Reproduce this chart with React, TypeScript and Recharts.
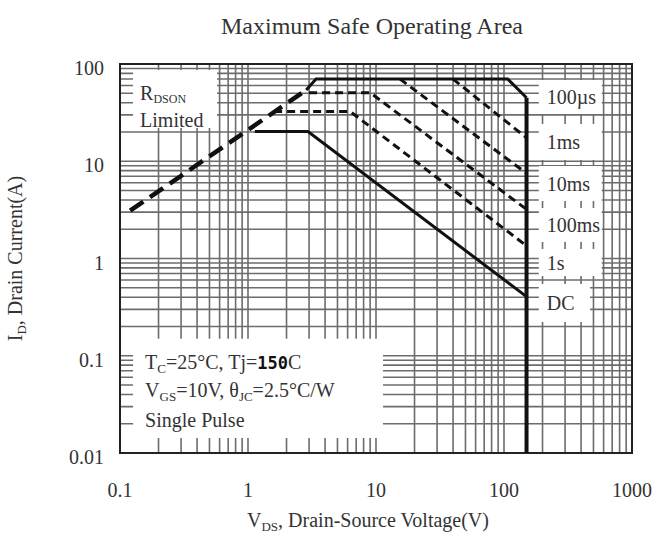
import React from "react";
import {
  LineChart,
  Line,
  XAxis,
  YAxis,
  CartesianGrid,
  ReferenceArea,
  Label,
} from "recharts";

const FONT = "'Liberation Serif', 'Times New Roman', serif";
const INK = "#333";
const GRID = "#6c6c6c";

// axis ticks
const voltageTicks = [0.1, 1, 10, 100, 1000];
const currentTicks = [0.01, 0.1, 1, 10, 100];

// log grid lines (inside the frame)
const voltageGrid = [
  0.2, 0.3, 0.4, 0.5, 0.6, 0.7, 0.8, 0.9,
  1, 2, 3, 4, 5, 6, 7, 8, 9,
  10, 20, 30, 40, 50, 60, 70, 80, 90,
  100, 200, 300, 400, 500, 600, 700, 800, 900,
];
const currentGrid = [
  0.02, 0.03, 0.04, 0.05, 0.06, 0.07, 0.08, 0.09,
  0.1, 0.2, 0.3, 0.4, 0.5, 0.6, 0.7, 0.8, 0.9,
  1, 2, 3, 4, 5, 6, 7, 8, 9,
  10, 20, 30, 40, 50, 60, 70, 80, 90,
];

// SOA boundaries, v = VDS (V), i = ID (A)
const rdsOnLimit = [
  { v: 0.12, i: 3.1 },
  { v: 2.85, i: 54 },
];
const pulse100us = [
  { v: 2.85, i: 54 },
  { v: 3.4, i: 70 },
  { v: 107, i: 70 },
  { v: 150, i: 45 },
];
const vdsMax = [
  { v: 150, i: 45 },
  { v: 150, i: 0.01 },
];
const pulse1ms = [
  { v: 40, i: 70 },
  { v: 150, i: 17.4 },
];
const pulse10ms = [
  { v: 15.4, i: 70 },
  { v: 150, i: 7.5 },
];
const pulse100ms = [
  { v: 3.0, i: 50.7 },
  { v: 9, i: 50.7 },
  { v: 150, i: 3.2 },
];
const pulse1s = [
  { v: 1.6, i: 32.4 },
  { v: 6.3, i: 32.4 },
  { v: 150, i: 1.35 },
];
const dcLimit = [
  { v: 1.13, i: 20.2 },
  { v: 2.94, i: 20.2 },
  { v: 150, i: 0.405 },
];

// run a value through an axis scale handed to the grid generators
const toPixel = (axis: any, value: number): number => {
  const s = axis?.scale;
  if (typeof s === "function") return s(value);
  if (s && typeof s.map === "function") return s.map(value);
  return NaN;
};

// main text, subscript, then back on the baseline
const Sub = ({ base, s, rest, size = 13 }: { base: string; s: string; rest: string; size?: number }) => (
  <>
    <tspan>{base}</tspan>
    <tspan fontSize={size} dy={4}>{s}</tspan>
    <tspan dy={-4}>{rest}</tspan>
  </>
);

// text placed inside a white label box
const boxText = (content: string, dx = 8, dy = 7) => (props: any) => {
  const { x, y, height } = props.viewBox;
  return (
    <text x={x + dx} y={y + height / 2 + dy} fill={INK} fontFamily={FONT} fontSize={20}>
      {content}
    </text>
  );
};

const rdsText = (props: any) => {
  const { x, y } = props.viewBox;
  return (
    <g fill={INK} fontFamily={FONT} fontSize={20}>
      <text x={x + 7} y={y + 30}>
        <tspan>R</tspan>
        <tspan fontSize={12} dy={3}>DSON</tspan>
      </text>
      <text x={x + 7} y={y + 57}>Limited</text>
    </g>
  );
};

const conditionsText = (props: any) => {
  const { x, y } = props.viewBox;
  return (
    <g fill={INK} fontFamily={FONT} fontSize={20}>
      <text x={x + 12} y={y + 30}>
        <Sub base="T" s="C" rest="=25°C, Tj=" />
        <tspan fontFamily="'DejaVu Sans Mono', monospace" fontWeight="bold" fontSize={17} fill="#111">150</tspan>
        <tspan>C</tspan>
      </text>
      <text x={x + 12} y={y + 58}>
        <Sub base="V" s="GS" rest="=10V, θ" />
        <tspan fontSize={13} dy={4}>JC</tspan>
        <tspan dy={-4}>=2.5°C/W</tspan>
      </text>
      <text x={x + 12} y={y + 88}>Single Pulse</text>
    </g>
  );
};

const xTitle = (props: any) => {
  const { x, width } = props.viewBox;
  return (
    <text x={x + width / 2 - 8} y={527} textAnchor="middle" fill={INK} fontFamily={FONT} fontSize={20}>
      <Sub base="V" s="DS" rest=", Drain-Source Voltage(V)" />
    </text>
  );
};

const yTitle = (props: any) => {
  const { y, height } = props.viewBox;
  const cy = y + height / 2;
  return (
    <text
      x={22}
      y={cy}
      transform={`rotate(-90, 22, ${cy})`}
      textAnchor="middle"
      fill={INK}
      fontFamily={FONT}
      fontSize={20}
    >
      <Sub base="I" s="D" rest=", Drain Current(A)" />
    </text>
  );
};

const tickStyle = { fill: INK, fontFamily: FONT, fontSize: 20 };

export default function App() {
  return (
    <div style={{ position: "absolute", left: 0, top: 0, width: 656, height: 533, background: "#fff" }}>
      <div
        style={{
          position: "absolute",
          left: 0,
          top: 13,
          width: 744,
          textAlign: "center",
          fontFamily: FONT,
          fontSize: 24,
          color: INK,
        }}
      >
        Maximum Safe Operating Area
      </div>
      <LineChart width={656} height={533} margin={{ top: 64, right: 24, bottom: 0, left: 0 }}>
        <CartesianGrid
          stroke={GRID}
          strokeWidth={1.6}
          verticalCoordinatesGenerator={({ xAxis }: any) => voltageGrid.map((v) => toPixel(xAxis, v))}
          horizontalCoordinatesGenerator={({ yAxis }: any) => currentGrid.map((c) => toPixel(yAxis, c))}
        />
        <XAxis
          dataKey="v"
          type="number"
          scale="log"
          domain={[0.1, 1000]}
          allowDataOverflow
          ticks={voltageTicks}
          tickFormatter={(t: number) => String(t)}
          tick={tickStyle}
          tickLine={false}
          axisLine={false}
          tickMargin={24}
          height={80}
        >
          <Label content={xTitle} />
        </XAxis>
        <YAxis
          dataKey="i"
          type="number"
          scale="log"
          domain={[0.01, 100]}
          allowDataOverflow
          ticks={currentTicks}
          tickFormatter={(t: number) => String(t)}
          tick={{ ...tickStyle, dy: 4 }}
          tickLine={false}
          axisLine={false}
          tickMargin={10}
          width={120}
        >
          <Label content={yTitle} />
        </YAxis>

        {/* white label boxes over the grid */}
        <ReferenceArea x1={0.1265} x2={0.573} y1={22} y2={86.8} fill="#fff" fillOpacity={1} label={rdsText} />
        <ReferenceArea x1={0.1265} x2={11.35} y1={0.0143} y2={0.15} fill="#fff" fillOpacity={1} label={conditionsText} />
        <ReferenceArea x1={187} x2={580} y1={30.6} y2={68.5} fill="#fff" fillOpacity={1} label={boxText("100µs")} />
        <ReferenceArea x1={187} x2={580} y1={10.3} y2={24.2} fill="#fff" fillOpacity={1} label={boxText("1ms")} />
        <ReferenceArea x1={187} x2={580} y1={3.9} y2={8.93} fill="#fff" fillOpacity={1} label={boxText("10ms")} />
        <ReferenceArea x1={187} x2={580} y1={1.48} y2={3.3} fill="#fff" fillOpacity={1} label={boxText("100ms")} />
        <ReferenceArea x1={187} x2={580} y1={0.66} y2={1.25} fill="#fff" fillOpacity={1} label={boxText("1s")} />
        <ReferenceArea x1={187} x2={470} y1={0.222} y2={0.547} fill="#fff" fillOpacity={1} label={boxText("DC")} />

        {/* frame */}
        <ReferenceArea x1={0.1} x2={1000} y1={0.01} y2={100} fill="none" stroke="#222" strokeWidth={2} />

        <Line data={rdsOnLimit} dataKey="i" stroke="#111" strokeWidth={4.5} strokeDasharray="16 8" dot={false} isAnimationActive={false} />
        <Line data={pulse100us} dataKey="i" stroke="#111" strokeWidth={3} dot={false} isAnimationActive={false} />
        <Line data={vdsMax} dataKey="i" stroke="#111" strokeWidth={4} dot={false} isAnimationActive={false} />
        <Line data={pulse1ms} dataKey="i" stroke="#111" strokeWidth={3} strokeDasharray="8 5" dot={false} isAnimationActive={false} />
        <Line data={pulse10ms} dataKey="i" stroke="#111" strokeWidth={3} strokeDasharray="8 5" dot={false} isAnimationActive={false} />
        <Line data={pulse100ms} dataKey="i" stroke="#111" strokeWidth={3} strokeDasharray="8 5" dot={false} isAnimationActive={false} />
        <Line data={pulse1s} dataKey="i" stroke="#111" strokeWidth={3} strokeDasharray="8 5" dot={false} isAnimationActive={false} />
        <Line data={dcLimit} dataKey="i" stroke="#111" strokeWidth={3} dot={false} isAnimationActive={false} />
      </LineChart>
    </div>
  );
}
